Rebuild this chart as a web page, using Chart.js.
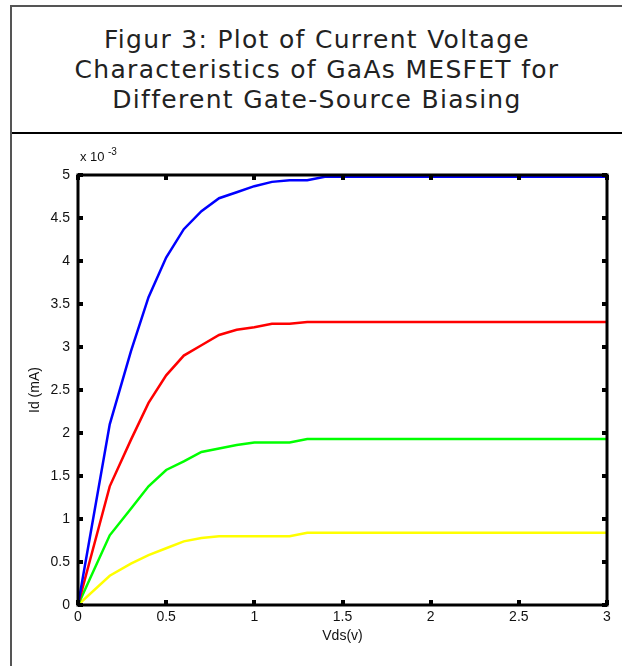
<!DOCTYPE html>
<html>
<head>
<meta charset="utf-8">
<script src="https://cdn.jsdelivr.net/npm/chart.js@4.4.0/dist/chart.umd.min.js"></script>
<style>
  html, body { margin: 0; padding: 0; background: #fff; overflow: hidden; }
  #page { position: relative; width: 622px; height: 666px; overflow: hidden; }
  #leftLine { position: absolute; left: 10px; top: 5px; width: 2px; height: 661px; background: #555; }
  #topLine { position: absolute; left: 10px; top: 5px; width: 612px; height: 2px; background: #555; }
  #title {
    position: absolute; left: 12px; top: 7px; width: 610px; height: 127px;
    border-bottom: 2px solid #000;
    font-family: "DejaVu Sans", sans-serif; font-size: 25px; color: #222;
    text-align: center; line-height: 30px; letter-spacing: 1.3px;
    box-sizing: border-box; padding-top: 18px; white-space: nowrap;
  }
  #lineChart { position: absolute; left: 0; top: 0; }
</style>
</head>
<body>
<div id="page">
  <div id="leftLine"></div>
  <div id="topLine"></div>
  <div id="title">Figur 3: Plot of Current Voltage<br>Characteristics of GaAs MESFET for<br>Different Gate-Source Biasing</div>
  <canvas id="lineChart" width="622" height="666"></canvas>
</div>
<script>
// Vds sample points (v)
const vds = [0, 0.18, 0.3, 0.4, 0.5, 0.6, 0.7, 0.8, 0.9, 1.0, 1.1, 1.2, 1.3, 1.4, 3.0];

// Id values (x 10^-3) for each gate-source bias
const idBlue   = [0, 2.10, 2.95, 3.58, 4.04, 4.37, 4.58, 4.73, 4.80, 4.87, 4.92, 4.94, 4.94, 4.98, 4.98];
const idRed    = [0, 1.38, 1.92, 2.35, 2.67, 2.90, 3.02, 3.14, 3.20, 3.23, 3.27, 3.27, 3.29, 3.29, 3.29];
const idGreen  = [0, 0.81, 1.12, 1.38, 1.57, 1.67, 1.78, 1.82, 1.86, 1.89, 1.89, 1.89, 1.93, 1.93, 1.93];
const idYellow = [0, 0.34, 0.48, 0.58, 0.66, 0.74, 0.78, 0.80, 0.80, 0.80, 0.80, 0.80, 0.84, 0.84, 0.84];

const xTicks = [0, 0.5, 1, 1.5, 2, 2.5, 3];
const yTicks = [0, 0.5, 1, 1.5, 2, 2.5, 3, 3.5, 4, 4.5, 5];

const seriesColors = ["#0000ff", "#ff0000", "#00ff00", "#ffff00"];
const seriesValues = [idBlue, idRed, idGreen, idYellow];

const textColor = "#111";
const tickFont = { family: "'Liberation Sans', Arial, sans-serif", size: 14 };

//frame with inward ticks on all four sides + exponent label
const framePlugin = {
  id: "frame",
  afterDatasetsDraw(chart) {
    const { ctx, chartArea: a, scales } = chart;
    ctx.save();
    ctx.fillStyle = "#000";
    const len = 5, w = 4;
    xTicks.forEach((v) => {
      const px = Math.round(scales.x.getPixelForValue(v));
      ctx.fillRect(px - w / 2, a.bottom - len, w, len);
      ctx.fillRect(px - w / 2, a.top, w, len);
    });
    yTicks.forEach((v) => {
      const py = Math.round(scales.y.getPixelForValue(v));
      ctx.fillRect(a.left, py - w / 2, len, w);
      ctx.fillRect(a.right - len, py - w / 2, len, w);
    });
    ctx.strokeStyle = "#000";
    ctx.lineWidth = 3;
    ctx.strokeRect(a.left, a.top, a.right - a.left, a.bottom - a.top);

    ctx.fillStyle = textColor;
    ctx.textBaseline = "alphabetic";
    ctx.textAlign = "left";
    ctx.font = "13px 'Liberation Sans', Arial, sans-serif";
    ctx.fillText("x 10", a.left + 2, a.top - 14);
    ctx.font = "10px 'Liberation Sans', Arial, sans-serif";
    ctx.fillText("-3", a.left + 30, a.top - 20);
    ctx.restore();
  },
};

const chartData = {
  datasets: seriesValues.map((vals, i) => ({
    data: vds.map((x, j) => ({ x, y: vals[j] })),
    borderColor: seriesColors[i],
    borderWidth: 2.5,
    pointRadius: 0,
    tension: 0,
    fill: false,
  })),
};

const options = {
  responsive: false,
  animation: false,
  layout: { padding: { top: 175, right: 15, left: 27, bottom: 21 } },
  plugins: { legend: { display: false }, tooltip: { enabled: false } },
  scales: {
    x: {
      type: "linear",
      min: 0,
      max: 3,
      border: { display: false },
      grid: { display: false, drawTicks: false },
      afterBuildTicks(scale) {
        scale.ticks = xTicks.map((v) => ({ value: v }));
      },
      afterFit(scale) {
        scale.height = 40;
      },
      ticks: {
        color: textColor,
        font: tickFont,
        padding: 4,
        maxRotation: 0,
        callback: (v) => String(v),
      },
      title: {
        display: true,
        text: "Vds(v)",
        color: textColor,
        font: tickFont,
        padding: { top: 0, bottom: 0 },
      },
    },
    y: {
      type: "linear",
      min: 0,
      max: 5,
      border: { display: false },
      grid: { display: false, drawTicks: false },
      afterBuildTicks(scale) {
        scale.ticks = yTicks.map((v) => ({ value: v }));
      },
      afterFit(scale) {
        scale.width = 51;
      },
      ticks: {
        color: textColor,
        font: tickFont,
        padding: 8,
        callback: (v) => String(v),
      },
      title: {
        display: true,
        text: "Id (mA)",
        color: textColor,
        font: tickFont,
        padding: { top: 0, bottom: 0 },
      },
    },
  },
};

const ctx = document.getElementById("lineChart").getContext("2d");

new Chart(ctx, {
  type: "line",
  data: chartData,
  options,
  plugins: [framePlugin],
});
</script>
</body>
</html>
